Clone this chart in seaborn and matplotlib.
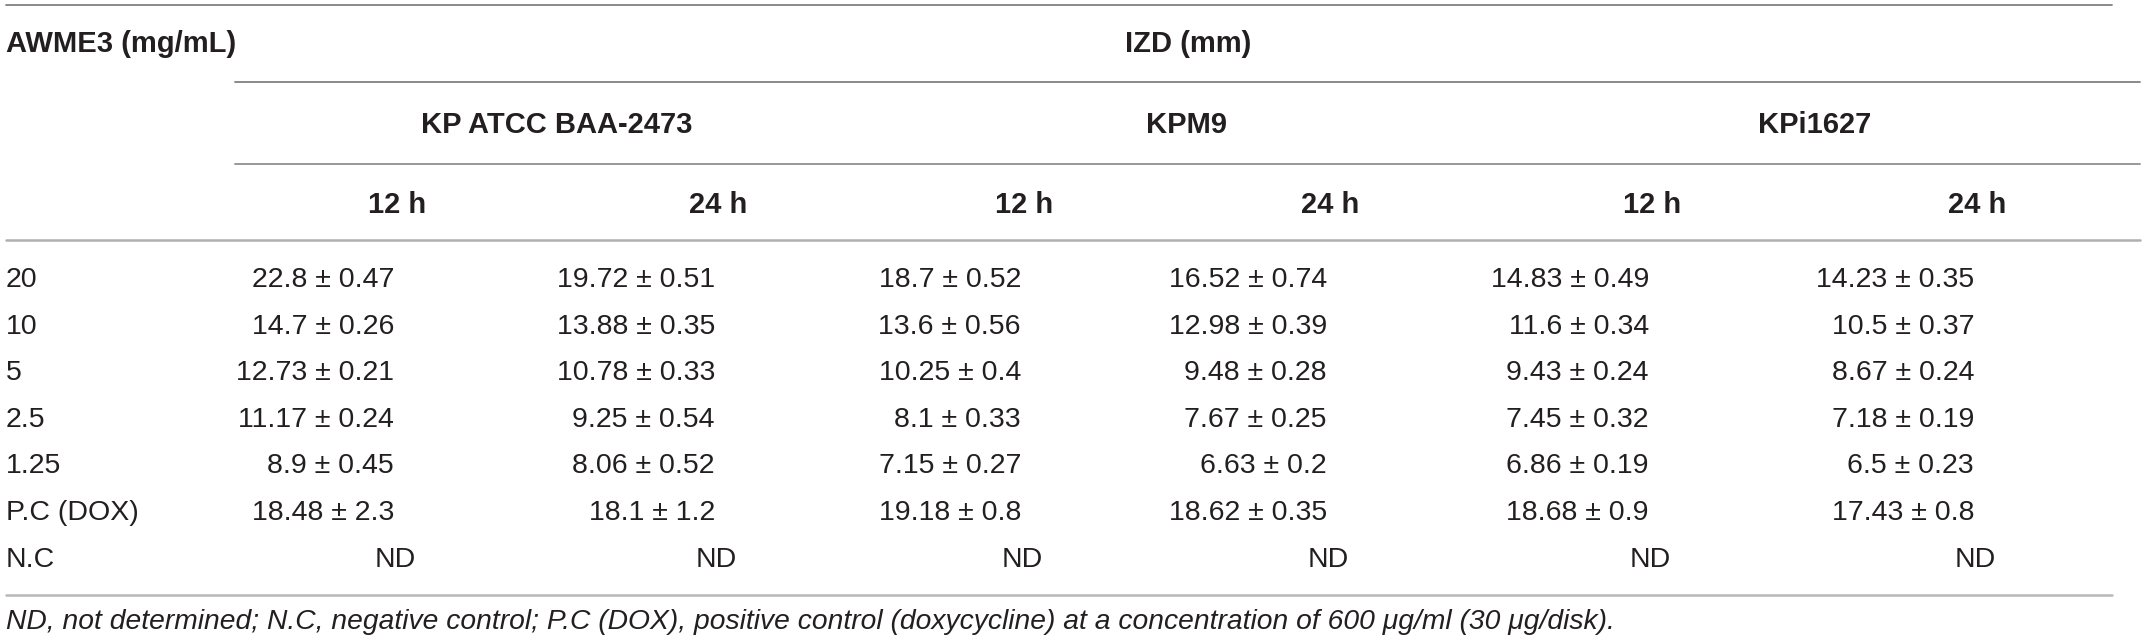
import pandas as pd
import matplotlib.pyplot as plt
import seaborn as sns

# 표 데이터 (AWME3 농도별 억제대 직경, mean ± SD)
conc = ["20", "10", "5", "2.5", "1.25", "P.C (DOX)", "N.C"]
strains = ["KP ATCC BAA-2473", "KPM9", "KPi1627"]
times = ["12 h", "24 h"]

kp_12 = ["22.8 ± 0.47", "14.7 ± 0.26", "12.73 ± 0.21", "11.17 ± 0.24", "8.9 ± 0.45", "18.48 ± 2.3", "ND"]
kp_24 = ["19.72 ± 0.51", "13.88 ± 0.35", "10.78 ± 0.33", "9.25 ± 0.54", "8.06 ± 0.52", "18.1 ± 1.2", "ND"]
kpm9_12 = ["18.7 ± 0.52", "13.6 ± 0.56", "10.25 ± 0.4", "8.1 ± 0.33", "7.15 ± 0.27", "19.18 ± 0.8", "ND"]
kpm9_24 = ["16.52 ± 0.74", "12.98 ± 0.39", "9.48 ± 0.28", "7.67 ± 0.25", "6.63 ± 0.2", "18.62 ± 0.35", "ND"]
kpi_12 = ["14.83 ± 0.49", "11.6 ± 0.34", "9.43 ± 0.24", "7.45 ± 0.32", "6.86 ± 0.19", "18.68 ± 0.9", "ND"]
kpi_24 = ["14.23 ± 0.35", "10.5 ± 0.37", "8.67 ± 0.24", "7.18 ± 0.19", "6.5 ± 0.23", "17.43 ± 0.8", "ND"]

footnote = ("ND, not determined; N.C, negative control; P.C (DOX), positive control (doxycycline) "
            "at a concentration of 600 \u03bcg/ml (30 \u03bcg/disk).")

df = pd.DataFrame({"conc": conc, "c0": kp_12, "c1": kp_24, "c2": kpm9_12,
                   "c3": kpm9_24, "c4": kpi_12, "c5": kpi_24})

# 레이아웃 (픽셀 좌표)
W, H = 2146, 644
col_x = [397, 718, 1024, 1330, 1652, 1977]
group_x = [557, 1186, 1815]
row_y0, row_dy = 287, 46.6
TXT = "#231f20"

sns.set_theme(style="white")
plt.rcParams["font.family"] = ["Liberation Sans", "DejaVu Sans"]

fig = plt.figure(figsize=(W / 100, H / 100), dpi=100)
ax = fig.add_axes([0, 0, 1, 1])
ax.set_xlim(0, W)
ax.set_ylim(H, 0)
ax.axis("off")

# 가로 선
ax.plot([6, 2112], [5, 5], color="#808080", lw=1.3)
ax.plot([235, 2140], [82, 82], color="#808080", lw=1.3)
ax.plot([235, 2140], [164, 164], color="#909090", lw=1.3)
ax.plot([6, 2140], [240, 240], color="#b0b0b0", lw=1.8)
ax.plot([6, 2112], [595, 595], color="#b8b8b8", lw=1.8)

# 헤더
hdr = dict(fontsize=21, fontweight="bold", color=TXT, va="baseline")
ax.text(6, 52, "AWME3 (mg/mL)", ha="left", **hdr)
ax.text(1188, 52, "IZD (mm)", ha="center", **hdr)
for gx, s in zip(group_x, strains):
    ax.text(gx, 133, s, ha="center", **hdr)
for i, cx in enumerate(col_x):
    ax.text(cx, 213, times[i % 2], ha="center", **hdr)

# 본문
body = dict(va="baseline", fontsize=20.5, color=TXT)
for r, row in df.iterrows():
    y = row_y0 + r * row_dy
    ax.text(6, y, row["conc"], ha="left", **body)
    for i, cx in enumerate(col_x):
        val = row[f"c{i}"]
        if val == "ND":
            ax.text(cx + 19, y, val, ha="right", **body)
        else:
            ax.text(cx - 3, y, val, ha="right", **body)

ax.text(6, 629, footnote, ha="left", va="baseline", fontsize=20.3, style="italic", color=TXT)

fig.savefig("out.png", dpi=100, facecolor="white")
plt.close(fig)
